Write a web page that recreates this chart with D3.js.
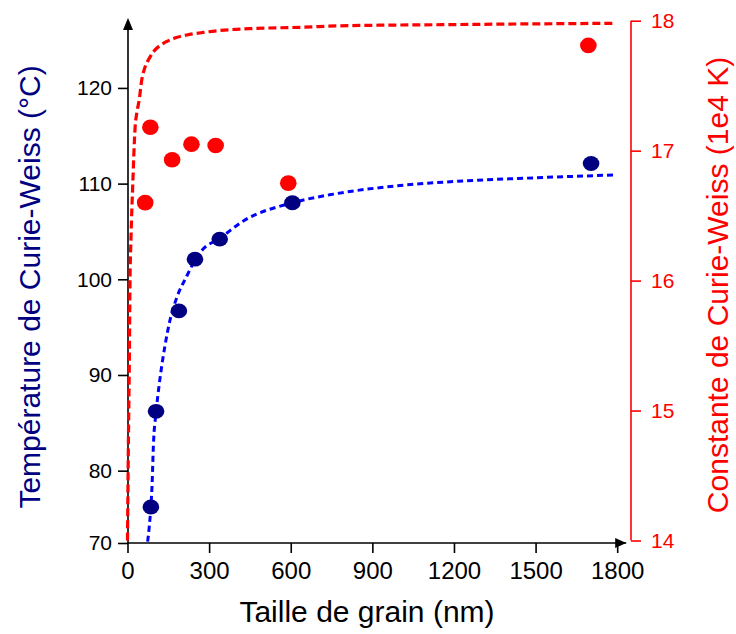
<!DOCTYPE html>
<html><head><meta charset="utf-8">
<script src="https://cdn.jsdelivr.net/npm/d3@7"></script>
<style>html,body{margin:0;padding:0;background:#fff;}svg{display:block;font-family:"Liberation Sans",Arial,sans-serif;}</style>
</head><body>
<svg id="chart" width="736" height="634"></svg>
<script>
// Measured points: grain size (nm)
const tempX = [86, 105, 189, 248, 339, 606, 1704];
const tempY = [76.2, 86.2, 96.7, 102.1, 104.2, 108.0, 112.1];
const constX = [65, 84, 164, 235, 324, 591, 1694];
const constY = [16.60, 17.18, 16.93, 17.05, 17.04, 16.75, 17.81];
// Fit curves
const tempFitX = [74, 80, 91, 95, 105, 117, 138, 156, 180, 219, 248, 273, 340, 426, 606, 757, 1002, 1247, 1492, 1786];
const tempFitY = [72.58, 74.15, 79.03, 82.5, 86.1, 89.1, 93.1, 95.7, 98.0, 100.4, 102.0, 103.0, 104.3, 106.1, 108.0, 108.9, 109.8, 110.3, 110.6, 110.9];
const constFitX = [0, 3, 7, 9, 13, 19, 28, 35, 43, 52, 64, 80, 95, 120, 144, 180, 218, 279, 370, 462, 646, 769, 1186, 1785];
const constFitY = [14.0, 14.70, 15.44, 15.95, 16.34, 16.72, 17.18, 17.30, 17.39, 17.54, 17.64, 17.71, 17.76, 17.81, 17.84, 17.87, 17.89, 17.91, 17.93, 17.94, 17.95, 17.96, 17.97, 17.98];
// Axis ticks
const xTicks = [0, 300, 600, 900, 1200, 1500, 1800];
const leftTicks = [72.44, 80, 90, 100, 110, 120];
const leftTickLabels = ["70", "80", "90", "100", "110", "120"];
const rightTicks = [14, 15, 16, 17, 18];
const xTitle = "Taille de grain (nm)";
const leftTitle = "Température de Curie-Weiss (°C)";
const rightTitle = "Constante de Curie-Weiss (1e4 K)";

const svg = d3.select("#chart");
const x = d3.scaleLinear().domain([0, 1800]).range([127.5, 617.2]);
const yL = d3.scaleLinear().domain([72.44, 127.1]).range([543, 20]);
const yR = d3.scaleLinear().domain([14, 18]).range([540.5, 20.7]);

const NAVY = "#000080", RED = "#ff0000", BLUE = "#0000ff";

// X axis
const xAx = svg.append("g").attr("transform", "translate(0,543)")
  .call(d3.axisBottom(x).tickValues(xTicks).tickSize(10).tickPadding(9).tickFormat(d3.format("d")));
xAx.select(".domain").attr("d", `M${x(0)},0H${x(1800)+9}`).attr("stroke", "#000").attr("stroke-width", 1.6);
xAx.selectAll(".tick line").attr("stroke", "#000").attr("stroke-width", 1.6);
xAx.selectAll(".tick text").attr("font-size", 24).attr("fill", "#000");
svg.append("path").attr("d", `M${x(1800)+9},543 l-11,-5 l0,10 z`).attr("fill", "#000");

// Left axis
const lAx = svg.append("g").attr("transform", `translate(${x(0)+0.5},0)`)
  .call(d3.axisLeft(yL).tickValues(leftTicks).tickSize(10).tickPadding(6).tickFormat((d, i) => leftTickLabels[i]));
lAx.select(".domain").attr("d", `M0,${yL(72.44)}V28`).attr("stroke", "#000").attr("stroke-width", 1.6);
lAx.selectAll(".tick line").attr("stroke", "#000").attr("stroke-width", 1.6);
lAx.selectAll(".tick text").attr("font-size", 21).attr("fill", "#000");
svg.append("path").attr("d", `M${x(0)+0.5},18 l-5,12 l10,0 z`).attr("fill", "#000");

// Right axis
const rAx = svg.append("g").attr("transform", "translate(631,0)")
  .call(d3.axisRight(yR).tickValues(rightTicks).tickSize(10).tickPadding(10).tickFormat(d3.format("d")));
rAx.select(".domain").attr("d", `M0,${yR(14)}V${yR(18)}`).attr("stroke", RED).attr("stroke-width", 1.6);
rAx.selectAll(".tick line").attr("stroke", RED).attr("stroke-width", 1.6);
rAx.selectAll(".tick text").attr("font-size", 21).attr("fill", RED);

// Titles
svg.append("text").attr("x", 367).attr("y", 622).attr("text-anchor", "middle")
  .attr("font-size", 30).attr("fill", "#000").text(xTitle);
svg.append("text").attr("transform", "translate(40,287) rotate(-90)").attr("text-anchor", "middle")
  .attr("font-size", 30).attr("fill", NAVY).text(leftTitle);
svg.append("text").attr("transform", "translate(728,285) rotate(-90)").attr("text-anchor", "middle")
  .attr("font-size", 30).attr("fill", RED).text(rightTitle);

// Fit curves
const lineL = d3.line().x(d => x(d[0])).y(d => yL(d[1])).curve(d3.curveMonotoneX);
const lineR = d3.line().x(d => x(d[0])).y(d => yR(d[1])).curve(d3.curveMonotoneX);
svg.append("path").datum(constFitX.map((v, i) => [v, constFitY[i]])).attr("d", lineR)
  .attr("fill", "none").attr("stroke", RED).attr("stroke-width", 3.2).attr("stroke-dasharray", "8,4");
svg.append("path").datum(tempFitX.map((v, i) => [v, tempFitY[i]])).attr("d", lineL)
  .attr("fill", "none").attr("stroke", BLUE).attr("stroke-width", 3).attr("stroke-dasharray", "6,4");

// Points
svg.append("g").selectAll("ellipse").data(constX.map((v, i) => [v, constY[i]])).join("ellipse")
  .attr("cx", d => x(d[0])).attr("cy", d => yR(d[1])).attr("rx", 8.3).attr("ry", 7.8).attr("fill", RED);
svg.append("g").selectAll("ellipse").data(tempX.map((v, i) => [v, tempY[i]])).join("ellipse")
  .attr("cx", d => x(d[0])).attr("cy", d => yL(d[1])).attr("rx", 8.3).attr("ry", 7.4).attr("fill", NAVY);
</script>
</body></html>
